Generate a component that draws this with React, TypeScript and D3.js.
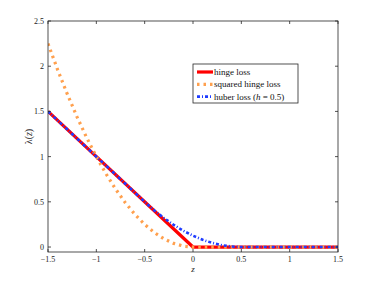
import React from 'react';
import * as d3 from 'd3';

const hingeZ = [-1.5, 0, 1.5];
const hingeL = [1.5, 0, 0];

const sqZ = [-1.5, -1.4, -1.3, -1.2, -1.1, -1.0, -0.9, -0.8, -0.7, -0.6, -0.5, -0.4, -0.3, -0.2, -0.1, 0, 1.5];
const sqL = [2.25, 1.96, 1.69, 1.44, 1.21, 1.0, 0.81, 0.64, 0.49, 0.36, 0.25, 0.16, 0.09, 0.04, 0.01, 0, 0];

const huberZ = [-1.5, -0.5, -0.4, -0.3, -0.2, -0.1, 0, 0.1, 0.2, 0.3, 0.4, 0.5, 1.5];
const huberL = [1.5, 0.5, 0.405, 0.32, 0.245, 0.18, 0.125, 0.08, 0.045, 0.02, 0.005, 0, 0];

const xTicks = [-1.5, -1, -0.5, 0, 0.5, 1, 1.5];
const yTicks = [0, 0.5, 1, 1.5, 2, 2.5];

const W = 374;
const H = 284;
const m = { left: 48, right: 36, top: 21, bottom: 32 };

const App: React.FC = () => {
  const x = d3.scaleLinear().domain([-1.5, 1.5]).range([m.left, W - m.right]);
  const y = d3.scaleLinear().domain([-0.055, 2.5]).range([H - m.bottom, m.top]);
  const line = d3.line<[number, number]>().x(d => x(d[0])).y(d => y(d[1]));
  const pts = (zs: number[], ls: number[]) => zs.map((z, i) => [z, ls[i]] as [number, number]);

  const x0 = x.range()[0], x1 = x.range()[1];
  const y0 = y.range()[0], y1 = y.range()[1];
  const axisCol = '#262626';
  const font = '"Liberation Serif", "DejaVu Serif", serif';

  const series = [
    { label: 'hinge', d: line(pts(hingeZ, hingeL)), color: '#ff0000', w: 3.2, dash: undefined as string | undefined },
    { label: 'sq', d: line(pts(sqZ, sqL)), color: '#ffa04e', w: 3.2, dash: '2.5 4' },
    { label: 'huber', d: line(pts(huberZ, huberL)), color: '#1f3cff', w: 2.6, dash: '3 2 1 2' },
  ];

  const lgX = 193, lgY = 64;

  return (
    <svg width={W} height={H} style={{ position: 'absolute', left: 0, top: 0, background: '#fff' }} fontFamily={font}>
      <rect x={0} y={0} width={W} height={H} fill="#fff" />
      <defs>
        <clipPath id="plot">
          <rect x={x0} y={y1} width={x1 - x0} height={y0 - y1} />
        </clipPath>
      </defs>
      <g clipPath="url(#plot)">
        {series.map(s => (
          <path key={s.label} d={s.d ?? ''} fill="none" stroke={s.color} strokeWidth={s.w} strokeDasharray={s.dash} />
        ))}
      </g>
      {/* box */}
      <rect x={x0} y={y1} width={x1 - x0} height={y0 - y1} fill="none" stroke={axisCol} strokeWidth={0.8} />
      {xTicks.map(t => (
        <g key={'x' + t}>
          <line x1={x(t)} x2={x(t)} y1={y0} y2={y0 - 3} stroke={axisCol} strokeWidth={0.8} />
          <line x1={x(t)} x2={x(t)} y1={y1} y2={y1 + 3} stroke={axisCol} strokeWidth={0.8} />
          <text x={x(t)} y={y0 + 10} fontSize={8} textAnchor="middle" fill="#222">{t < 0 ? '\u2212' + Math.abs(t) : t}</text>
        </g>
      ))}
      {yTicks.map(t => (
        <g key={'y' + t}>
          <line x1={x0} x2={x0 + 3} y1={y(t)} y2={y(t)} stroke={axisCol} strokeWidth={0.8} />
          <line x1={x1} x2={x1 - 3} y1={y(t)} y2={y(t)} stroke={axisCol} strokeWidth={0.8} />
          <text x={x0 - 4} y={y(t) + 3} fontSize={8} textAnchor="end" fill="#222">{t}</text>
        </g>
      ))}
      <text x={x(0)} y={y0 + 20} fontSize={9} fontStyle="italic" textAnchor="middle" fill="#222">z</text>
      <text transform={`translate(32,${(y0 + y1) / 2}) rotate(-90)`} fontSize={10} textAnchor="middle" fill="#222">
        λ(<tspan fontStyle="italic">z</tspan>)
      </text>
      {/* legend */}
      <rect x={lgX} y={lgY} width={105} height={39} fill="#fff" stroke={axisCol} strokeWidth={0.8} />
      {series.map((s, i) => {
        const yy = lgY + 8 + i * 12.3;
        const txt = ['hinge loss', 'squared hinge loss', null][i];
        return (
          <g key={'lg' + s.label}>
            <line x1={lgX + 4} x2={lgX + 20} y1={yy} y2={yy} stroke={s.color} strokeWidth={s.w} strokeDasharray={s.dash} />
            <text x={lgX + 21} y={yy + 3} fontSize={9} fill="#111">
              {txt ?? (
                <>huber loss (<tspan fontStyle="italic">h</tspan> = 0.5)</>
              )}
            </text>
          </g>
        );
      })}
    </svg>
  );
};

export default App;
